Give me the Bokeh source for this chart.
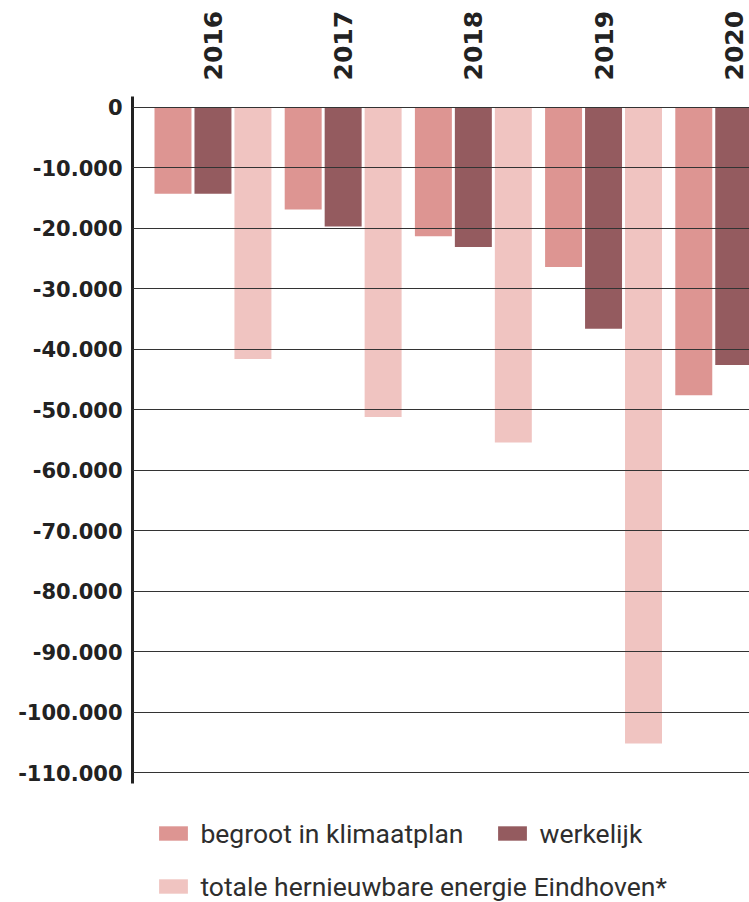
import math
from bokeh.plotting import figure
from bokeh.models import ColumnDataSource, FixedTicker, Legend, LegendItem, Range1d
from bokeh.transform import dodge
from bokeh.embed import file_html
from bokeh.resources import INLINE

# ---- data ----
years = [2016, 2017, 2018, 2019, 2020]
year_labels = ["2016", "2017", "2018", "2019", "2020"]
begroot = [-14300, -16900, -21300, -26400, -47600]
werkelijk = [-14300, -19700, -23100, -36600, -42600]
totaal = [-41600, -51200, -55400, -105200, None]
series_names = ["begroot in klimaatplan", "werkelijk",
                "totale hernieuwbare energie Eindhoven*"]
y_ticks = [0, -10000, -20000, -30000, -40000, -50000, -60000,
           -70000, -80000, -90000, -100000, -110000]
y_tick_labels = ["0", "-10.000", "-20.000", "-30.000", "-40.000", "-50.000",
                 "-60.000", "-70.000", "-80.000", "-90.000", "-100.000",
                 "-110.000"]

colors = ["#DD9592", "#945B5F", "#F0C4C1"]

src = ColumnDataSource(dict(year=years, begroot=begroot, werkelijk=werkelijk))
tot_years = [y for y, v in zip(years, totaal) if v is not None]
tot_vals = [v for v in totaal if v is not None]
src_tot = ColumnDataSource(dict(year=tot_years, totaal=tot_vals))

# frame extends to the bottom of the page; the legends sit in its lower part
p = figure(frame_width=617, frame_height=806,
           x_range=Range1d(2015.382, 2020.121),
           y_range=Range1d(-131480, 1800),
           x_axis_location="above",
           output_backend="svg", toolbar_location=None,
           min_border_left=132, min_border_right=0,
           min_border_top=96, min_border_bottom=0)

bw = 0.284
off = 0.307
r1 = p.vbar(x=dodge("year", -off), top="begroot", bottom=0, width=bw,
            fill_color=colors[0], line_color=None, source=src)
r2 = p.vbar(x=dodge("year", 0.0), top="werkelijk", bottom=0, width=bw,
            fill_color=colors[1], line_color=None, source=src)
r3 = p.vbar(x=dodge("year", off), top="totaal", bottom=0, width=bw,
            fill_color=colors[2], line_color=None, source=src_tot)

# x axis (years on top, vertical)
xa = p.xaxis[0]
xa.ticker = FixedTicker(ticks=years)
xa.major_label_overrides = {y: l for y, l in zip(years, year_labels)}
xa.major_label_orientation = math.pi / 2
xa.axis_line_color = None
xa.major_tick_line_color = None
xa.minor_tick_line_color = None
xa.major_tick_out = 0
xa.major_tick_in = 0
xa.major_label_text_font = "DejaVu Sans"
xa.major_label_text_font_style = "bold"
xa.major_label_text_font_size = "25px"
xa.major_label_text_color = "#222222"
xa.major_label_standoff = 16

# y axis
ya = p.yaxis[0]
ya.ticker = FixedTicker(ticks=y_ticks)
ya.major_label_overrides = {t: l for t, l in zip(y_ticks, y_tick_labels)}
ya.bounds = (-111800, 1800)
ya.axis_line_color = "#222222"
ya.axis_line_width = 3
ya.major_tick_line_color = None
ya.minor_tick_line_color = None
ya.major_tick_out = 0
ya.major_tick_in = 0
ya.major_label_text_font = "DejaVu Sans"
ya.major_label_text_font_style = "bold"
ya.major_label_text_font_size = "21px"
ya.major_label_text_color = "#222222"
ya.major_label_standoff = 10

# grid drawn above the bars
p.xgrid.visible = False
p.ygrid.ticker = FixedTicker(ticks=y_ticks)
p.ygrid.grid_line_color = "#333333"
p.ygrid.grid_line_width = 1.2
p.ygrid.level = "overlay"
p.outline_line_color = None
p.background_fill_color = "white"
p.border_fill_color = "white"

common = dict(glyph_width=36, glyph_height=18, label_standoff=9,
              label_text_font="Roboto", label_text_font_size="26.5px",
              label_text_color="#2e2e2e", border_line_color=None,
              background_fill_alpha=0, padding=0, margin=0,
              orientation="horizontal")

leg1 = Legend(items=[LegendItem(label=series_names[0], renderers=[r1]),
                     LegendItem(label=series_names[1], renderers=[r2])],
              spacing=31, location=(23.4, 53.5), **common)
leg2 = Legend(items=[LegendItem(label=series_names[2], renderers=[r3])],
              location=(23.4, 0.5), **common)
p.add_layout(leg1, "center")
p.add_layout(leg2, "center")

open("out.html", "w").write(file_html(p, INLINE))
